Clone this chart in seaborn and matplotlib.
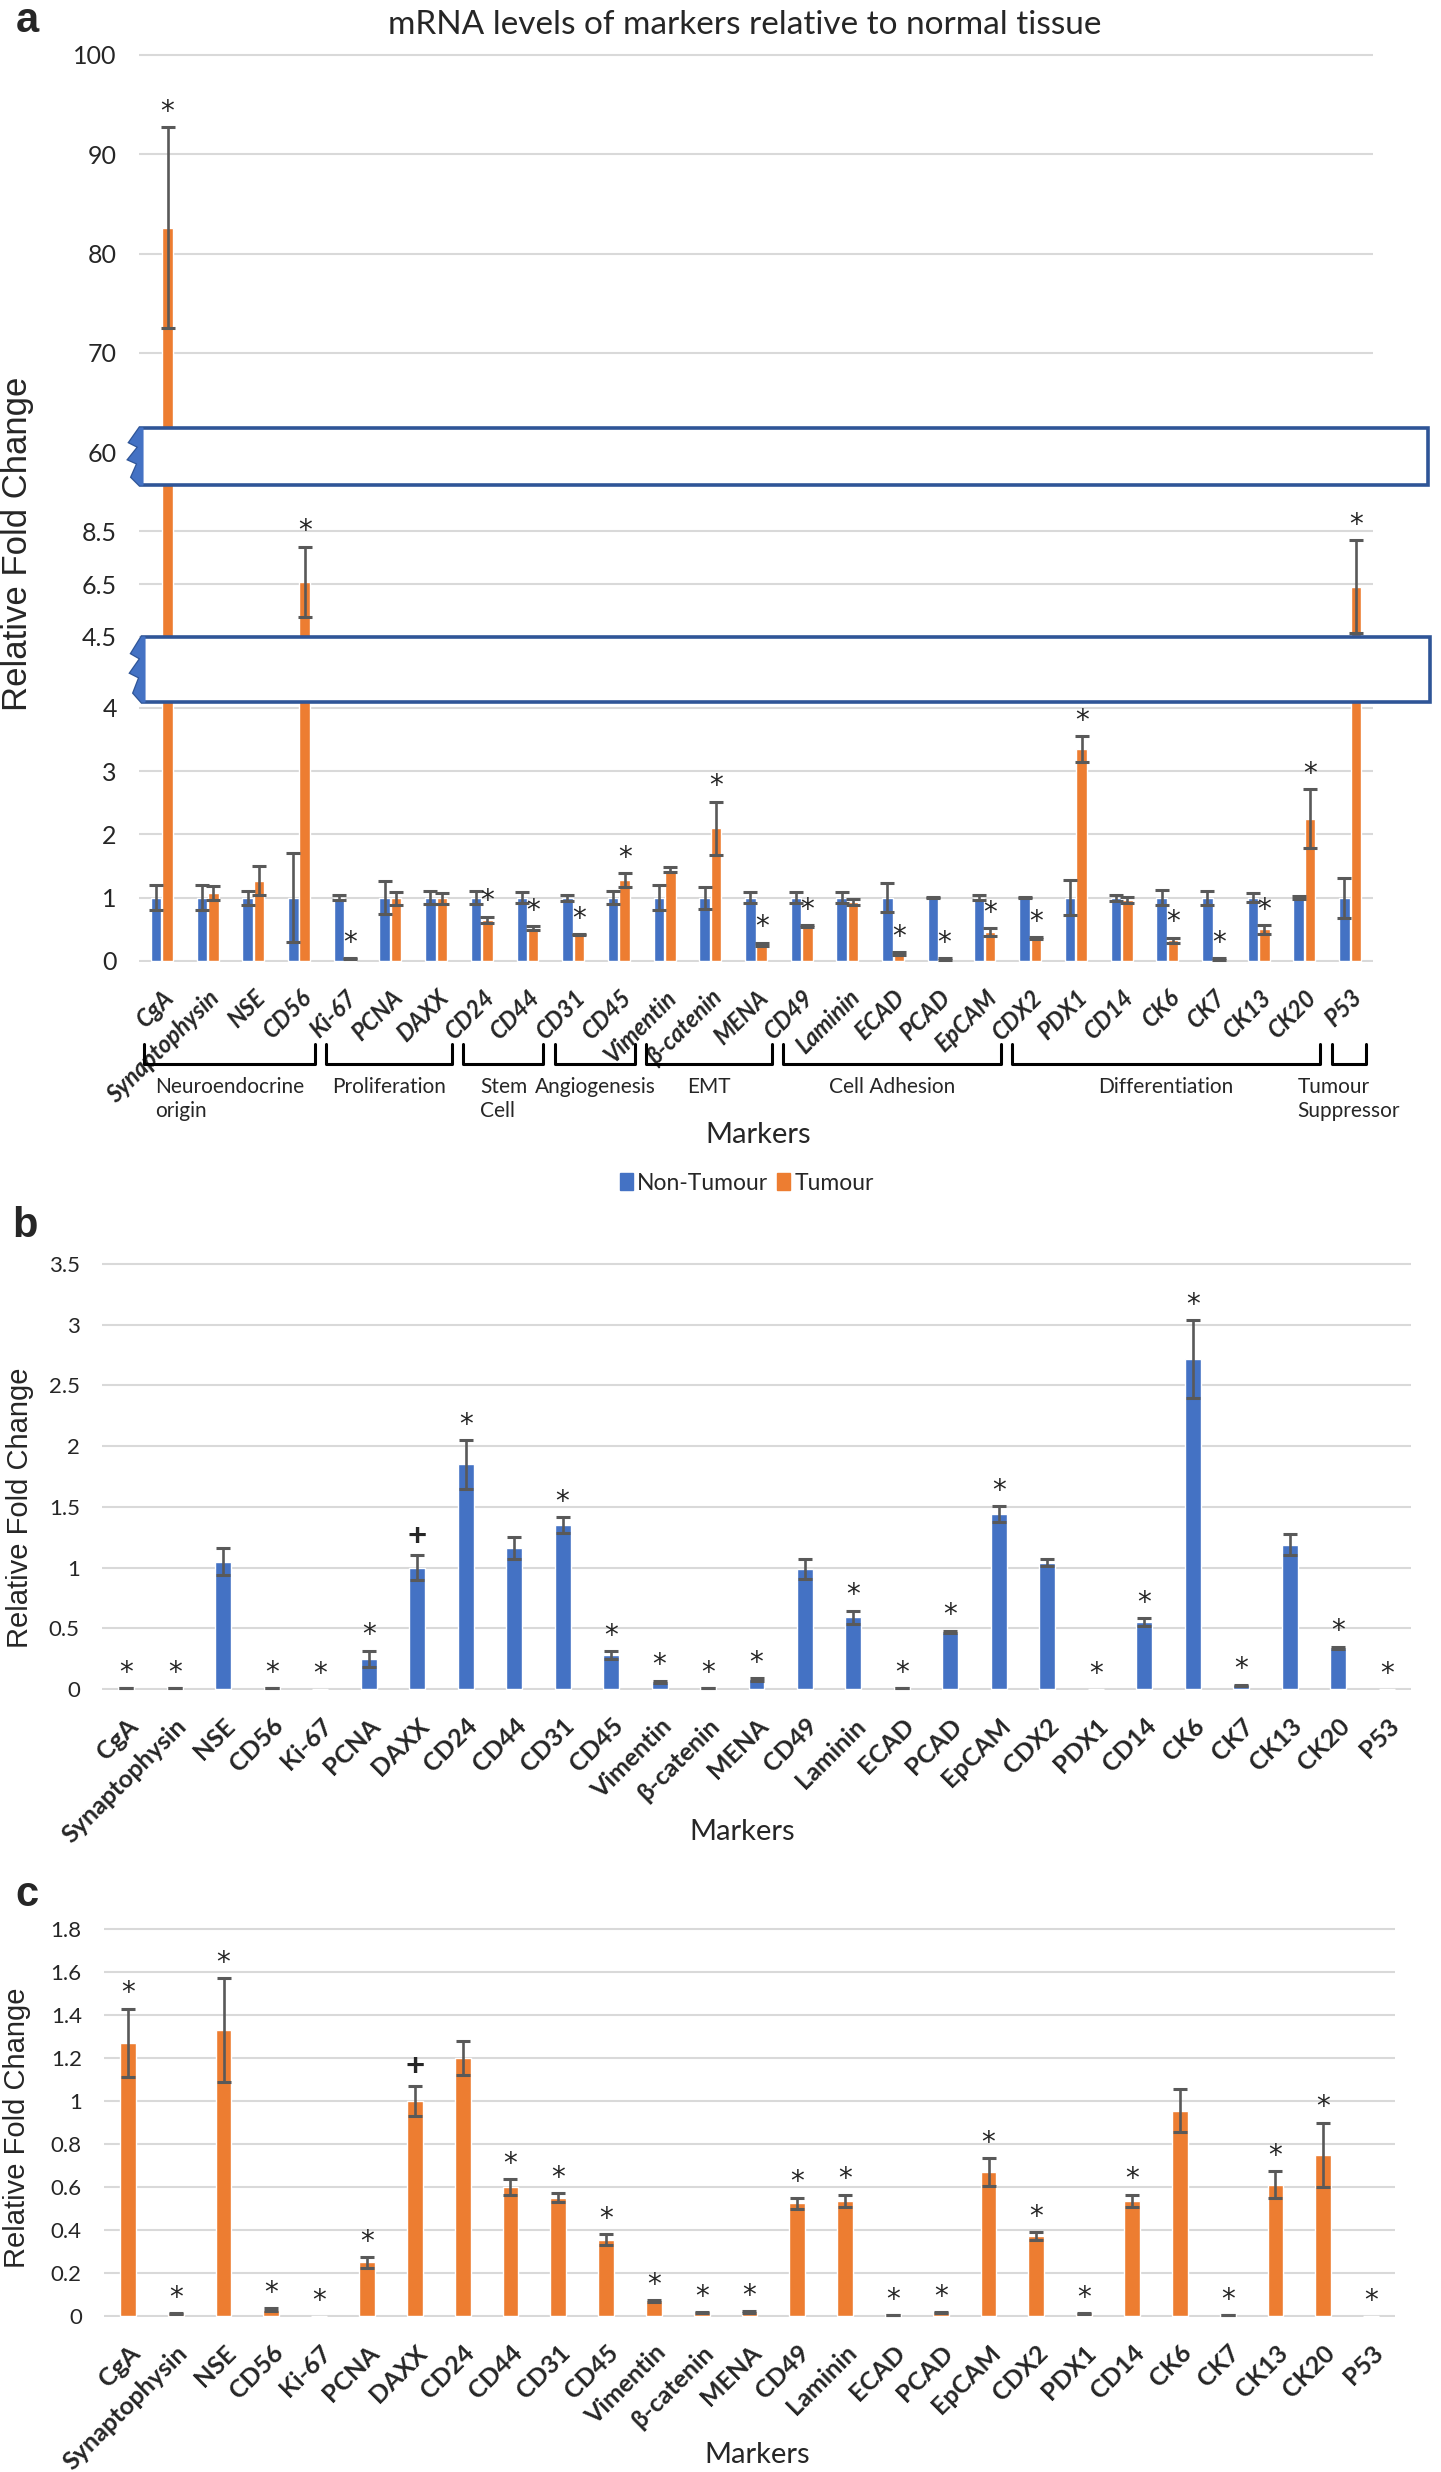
import numpy as np
import pandas as pd
import seaborn as sns
import matplotlib.pyplot as plt
import matplotlib.transforms as mtransforms
from matplotlib.patches import Polygon
from matplotlib.lines import Line2D

markers = ['CgA', 'Synaptophysin', 'NSE', 'CD56', 'Ki-67', 'PCNA', 'DAXX', 'CD24', 'CD44',
           'CD31', 'CD45', 'Vimentin', 'β-catenin', 'MENA', 'CD49', 'Laminin', 'ECAD', 'PCAD',
           'EpCAM', 'CDX2', 'PDX1', 'CD14', 'CK6', 'CK7', 'CK13', 'CK20', 'P53']

# panel a: tumour vs non-tumour relative to normal tissue
a_non_tumour = [1.0] * 27
a_non_tumour_err = [0.20, 0.20, 0.11, 0.70, 0.04, 0.26, 0.10, 0.10, 0.09, 0.05, 0.10, 0.20, 0.17,
                    0.09, 0.09, 0.09, 0.23, 0.01, 0.04, 0.01, 0.28, 0.05, 0.12, 0.11, 0.07, 0.02, 0.32]
a_tumour = [82.6, 1.07, 1.27, 6.58, 0.04, 0.99, 0.99, 0.65, 0.52, 0.42, 1.28, 1.44, 2.10,
            0.26, 0.55, 0.93, 0.12, 0.03, 0.46, 0.36, 3.35, 0.96, 0.33, 0.03, 0.50, 2.25, 6.40]
a_tumour_err = [10.1, 0.11, 0.23, 1.33, 0.01, 0.10, 0.09, 0.05, 0.03, 0.01, 0.11, 0.04, 0.42,
                0.03, 0.02, 0.05, 0.02, 0.01, 0.06, 0.02, 0.21, 0.05, 0.04, 0.01, 0.07, 0.47, 1.75]
a_sig = ['*', '', '', '*', '*', '', '', '*', '*', '*', '*', '', '*', '*',
         '*', '', '*', '*', '*', '*', '*', '', '*', '*', '*', '*', '*']

# panel b
b_values = [0.01, 0.005, 1.05, 0.005, 0.0, 0.25, 1.0, 1.85, 1.16, 1.35, 0.28, 0.06, 0.005,
            0.08, 0.99, 0.59, 0.01, 0.47, 1.44, 1.04, 0.0, 0.55, 2.72, 0.03, 1.19, 0.34, 0.0]
b_err = [0.0, 0.0, 0.11, 0.0, 0.0, 0.065, 0.1, 0.2, 0.09, 0.065, 0.03, 0.01, 0.0,
         0.01, 0.08, 0.055, 0.0, 0.01, 0.065, 0.03, 0.0, 0.035, 0.32, 0.005, 0.09, 0.01, 0.0]
b_sig = ['*', '*', '', '*', '*', '*', '+', '*', '', '*', '*', '*', '*',
         '*', '', '*', '*', '*', '*', '', '*', '*', '*', '*', '', '*', '*']

# panel c
c_values = [1.27, 0.01, 1.33, 0.03, 0.0, 0.25, 1.0, 1.2, 0.6, 0.55, 0.355, 0.07, 0.015,
            0.018, 0.525, 0.535, 0.003, 0.015, 0.67, 0.373, 0.01, 0.535, 0.955, 0.003, 0.61, 0.75, 0.0]
c_err = [0.16, 0.002, 0.24, 0.005, 0.0, 0.025, 0.07, 0.08, 0.035, 0.02, 0.027, 0.004, 0.003,
         0.004, 0.025, 0.03, 0.0, 0.003, 0.065, 0.018, 0.002, 0.03, 0.1, 0.0, 0.063, 0.15, 0.0]
c_sig = ['*', '*', '*', '*', '*', '*', '+', '', '*', '*', '*', '*', '*',
         '*', '*', '*', '*', '*', '*', '*', '*', '*', '', '*', '*', '*', '*']

groups = ['Neuroendocrine\norigin', 'Proliferation', 'Stem\nCell', 'Angiogenesis', 'EMT',
          'Cell Adhesion', 'Differentiation', 'Tumour\nSuppressor']
group_first = [0, 4, 7, 9, 11, 14, 19, 26]
group_last = [3, 6, 8, 10, 13, 18, 25, 26]

BLUE = '#4472C4'
ORANGE = '#ED7D31'
ERR = '#595959'
GRID = '#D9D9D9'
FRAME = '#2F5597'

sns.set_theme(style='white')
plt.rcParams['font.family'] = ['Lato', 'DejaVu Sans']

W, H = 1441, 2472
fig = plt.figure(figsize=(W / 100, H / 100), dpi=100)


def fx(x):
    return x / W


def fy(y):
    return 1 - y / H


def px_axes(left, right, zero_px, ppu, lo, hi):
    # place an axes so that value v sits at pixel row zero_px - v*ppu
    top = zero_px - hi * ppu
    bottom = zero_px - lo * ppu
    ax = fig.add_axes([left / W, 1 - bottom / H, (right - left) / W, (bottom - top) / H])
    return ax, (lo, hi)


def style_axes(ax, ylim, ticks, tick_size):
    sns.despine(ax=ax, left=True, bottom=True)
    ax.set_ylim(*ylim)
    ax.set_xlim(-0.5, 26.5)
    ax.set_yticks(ticks)
    ax.set_yticklabels([f'{t:g}' for t in ticks], fontsize=tick_size)
    ax.yaxis.grid(True, color=GRID, lw=1.5)
    ax.xaxis.grid(False)
    ax.set_axisbelow(True)
    ax.tick_params(length=0)
    ax.tick_params(axis='y', pad=16)
    ax.set_xlabel('')
    ax.set_ylabel('')


def add_sig(ax, x, y, sym):
    if sym == '*':
        ax.annotate('*', (x, y), xytext=(0, 11), textcoords='offset points',
                    ha='center', va='center', fontsize=20, family='DejaVu Sans')
    elif sym == '+':
        ax.annotate('+', (x, y), xytext=(0, 14), textcoords='offset points',
                    ha='center', va='center', fontsize=24, fontweight='bold')


def draw_errors(ax, xs, vals, errs):
    keep = [i for i, v in enumerate(vals) if v > 0]
    ax.errorbar([xs[i] for i in keep], [vals[i] for i in keep], yerr=[errs[i] for i in keep],
                fmt='none', ecolor=ERR, elinewidth=1.9, capsize=4.8, capthick=2.2, zorder=3)


# ---------------- panel a (broken y axis: three stacked axes) ----------------
df_a = pd.DataFrame({
    'Marker': markers * 2,
    'Tissue': ['Non-Tumour'] * 27 + ['Tumour'] * 27,
    'Value': a_non_tumour + a_tumour,
})

ax_top, lim_top = px_axes(139, 1373, 1047.5, 9.925, 58, 100.2)
ax_mid, lim_mid = px_axes(139, 1373, 756.25, 26.5, 4.5, 10.24)
ax_bot, lim_bot = px_axes(139, 1373, 961, 63.25, -0.02, 4.095)

for ax, lim, ticks in [(ax_top, lim_top, [60, 70, 80, 90, 100]),
                       (ax_mid, lim_mid, [4.5, 6.5, 8.5]),
                       (ax_bot, lim_bot, [0, 1, 2, 3, 4])]:
    sns.barplot(data=df_a, x='Marker', y='Value', hue='Tissue', palette=[BLUE, ORANGE],
                width=0.5, gap=0.08, saturation=1, errorbar=None, legend=False, ax=ax)
    centres = []
    for cont, vals, errs in zip(ax.containers, [a_non_tumour, a_tumour],
                                [a_non_tumour_err, a_tumour_err]):
        xs = [b.get_x() + b.get_width() / 2 for b in cont]
        centres.append(xs)
        draw_errors(ax, xs, vals, errs)
    for x, v, e, s in zip(centres[1], a_tumour, a_tumour_err, a_sig):
        add_sig(ax, x, v + e, s)
    style_axes(ax, lim, ticks, 18)
    if ax is not ax_bot:
        ax.set_xticklabels([])

ax_bot.set_xticks(range(len(markers)))
ax_bot.set_xticklabels(markers, rotation=45, ha='right', rotation_mode='anchor',
                       fontsize=17, fontweight='bold', fontstyle='italic')
ax_bot.tick_params(axis='x', pad=17)


# break boxes
def break_box(left, top, right, bottom):
    h = bottom - top
    zig = [(left, top), (left - 10, top + 0.25 * h), (left - 1, top + 0.33 * h),
           (left - 11, top + 0.55 * h), (left - 2, top + 0.62 * h), (left - 8, top + 0.86 * h),
           (left, bottom)]
    outline = [(right, top), (right, bottom), (left, bottom)] + zig[::-1][1:]
    fig.add_artist(Polygon([(fx(x), fy(y)) for x, y in outline], closed=True,
                           facecolor='white', edgecolor=FRAME, lw=2.6,
                           transform=fig.transFigure, zorder=10))
    fig.add_artist(Polygon([(fx(x), fy(y)) for x, y in zig + [(left + 3, bottom), (left + 3, top)]],
                           closed=True, facecolor=BLUE, edgecolor=BLUE, lw=0.8,
                           transform=fig.transFigure, zorder=11))


break_box(140, 428, 1428, 485)
break_box(142, 637, 1430, 702)

# group brackets under the tick labels
trans = mtransforms.blended_transform_factory(ax_bot.transData, fig.transFigure)
for name, first, last in zip(groups, group_first, group_last):
    x0, x1 = first - 0.4, last + 0.35
    fig.add_artist(Line2D([x0, x0, x1, x1], [fy(1044), fy(1064), fy(1064), fy(1044)],
                          transform=trans, color='black', lw=2.2))
    fig.text((x0 + x1) / 2, fy(1077), name, transform=trans, ha='center', va='top',
             multialignment='left', fontsize=15, linespacing=1.25)

fig.text(fx(745), fy(25), 'mRNA levels of markers relative to normal tissue',
         ha='center', va='center', fontsize=24)
fig.text(fx(758), fy(1135), 'Markers', ha='center', va='center', fontsize=21)
handles = [plt.Rectangle((0, 0), 1, 1, color=BLUE), plt.Rectangle((0, 0), 1, 1, color=ORANGE)]
fig.legend(handles, ['Non-Tumour', 'Tumour'], loc='center', bbox_to_anchor=(fx(747), fy(1183)),
           ncol=2, frameon=False, fontsize=16.5, handlelength=0.55, handleheight=0.7,
           handletextpad=0.2, columnspacing=0.4)

# ---------------- panels b and c ----------------
ax_b, lim_b = px_axes(102, 1411, 1689, 121.4, -0.012, 3.515)
ax_c, lim_c = px_axes(104, 1395, 2316, 215, -0.006, 1.808)

for ax, lim, vals, errs, sig, colour, ticks in [
        (ax_b, lim_b, b_values, b_err, b_sig, BLUE, [0, 0.5, 1, 1.5, 2, 2.5, 3, 3.5]),
        (ax_c, lim_c, c_values, c_err, c_sig, ORANGE,
         [0, 0.2, 0.4, 0.6, 0.8, 1, 1.2, 1.4, 1.6, 1.8])]:
    sns.barplot(x=markers, y=vals, color=colour, width=0.33, saturation=1, errorbar=None, ax=ax)
    xs = list(range(len(markers)))
    draw_errors(ax, xs, vals, errs)
    for x, v, e, s in zip(xs, vals, errs, sig):
        add_sig(ax, x, v + e, s)
    style_axes(ax, lim, ticks, 16)
    ax.set_xticks(xs)
    ax.set_xticklabels(markers, rotation=45, ha='right', rotation_mode='anchor',
                       fontsize=18, fontweight='bold')
    ax.tick_params(axis='x', pad=17)

fig.text(fx(742), fy(1832), 'Markers', ha='center', va='center', fontsize=21)
fig.text(fx(757), fy(2455), 'Markers', ha='center', va='center', fontsize=21)

# y labels and panel letters
ylab = dict(rotation=90, ha='center', va='center', family=['Liberation Sans', 'DejaVu Sans'])
fig.text(fx(18), fy(544), 'Relative Fold Change', fontsize=25, **ylab)
fig.text(fx(20), fy(1508), 'Relative Fold Change', fontsize=21, **ylab)
fig.text(fx(17), fy(2128), 'Relative Fold Change', fontsize=21, **ylab)

letter = dict(ha='center', va='center', fontweight='bold', fontsize=30,
              family=['Liberation Sans', 'DejaVu Sans'])
fig.text(fx(27), fy(21), 'a', **letter)
fig.text(fx(25), fy(1226), 'b', **letter)
fig.text(fx(27), fy(1895), 'c', **letter)

fig.savefig('out.png', dpi=100)
